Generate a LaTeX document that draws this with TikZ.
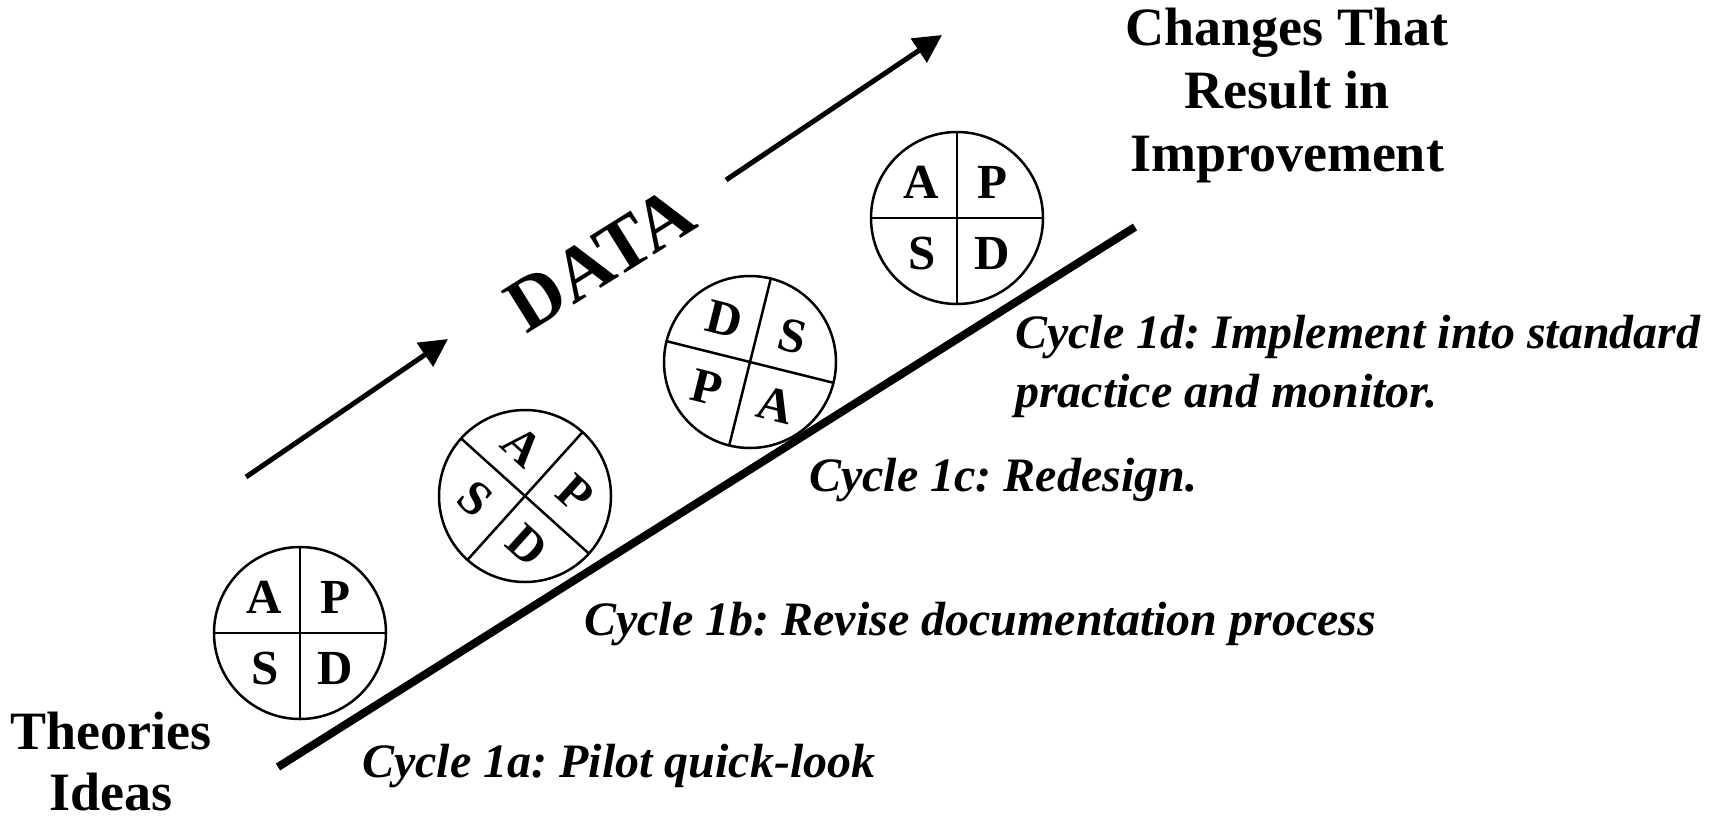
\documentclass[tikz,border=0pt]{standalone}
\usepackage{fontspec}
\setmainfont{Liberation Serif}
\usepackage{xcolor}
\definecolor{cInk}{HTML}{000000}
\usetikzlibrary{arrows.meta}
\tikzset{
  big-label/.style={font=\fontsize{54}{61}\selectfont\bfseries,align=center,
    inner sep=0pt,text=cInk},
  cycle-label/.style={font=\fontsize{48}{59}\selectfont\bfseries\itshape,
    align=left,inner sep=0pt,anchor=base west,text=cInk},
  data-label/.style={font=\fontsize{76}{80}\selectfont\bfseries,inner sep=0pt,
    text=cInk},
  pdsa-wheel/.style={draw=cInk,circle,line width=2.5pt,minimum size=172pt,
    inner sep=0pt},
  pdsa-cross/.style={draw=cInk,line width=2.5pt},
  pdsa-letter/.style={font=\fontsize{49}{50}\selectfont\bfseries,inner sep=0pt,
    text=cInk},
  ramp/.style={draw=cInk,line width=8pt},
  arrow-data/.style={-{Triangle[length=28pt,width=28pt]},line width=5pt,
    draw=cInk},
}
\frenchspacing

\begin{document}
\begin{tikzpicture}[x=1pt,y=-1pt]
  \useasboundingbox (0,0) rectangle (1719,820);

  % the ramp
  \coordinate (ramp-lo) at (278,767);
  \coordinate (ramp-hi) at (1135,227);
  \draw[ramp] (ramp-lo) -- (ramp-hi);

  % PDSA wheels: name / centre / turn / letters tl,tr,bl,br
  \foreach \name/\cx/\cy/\rot/\la/\lb/\lc/\ld in {
      c1a/300/633/0/A/P/S/D,
      c1b/525/496/-42/A/P/S/D,
      c1c/750/362/-14/D/S/P/A,
      c1d/957/218/0/A/P/S/D}{
    \node[pdsa-wheel] (\name) at (\cx,\cy) {};
    \draw[pdsa-cross] ([shift={({\rot}:86pt)}]\name.center)
      -- ([shift={({\rot+180}:86pt)}]\name.center);
    \draw[pdsa-cross] ([shift={({\rot+90}:86pt)}]\name.center)
      -- ([shift={({\rot+270}:86pt)}]\name.center);
    \node[pdsa-letter,rotate=\rot] (\name-\la)
      at ([shift={({\rot+135}:50pt)}]\name.center) {\la};
    \node[pdsa-letter,rotate=\rot] (\name-\lb)
      at ([shift={({\rot+45}:50pt)}]\name.center) {\lb};
    \node[pdsa-letter,rotate=\rot] (\name-\lc)
      at ([shift={({\rot+225}:50pt)}]\name.center) {\lc};
    \node[pdsa-letter,rotate=\rot] (\name-\ld)
      at ([shift={({\rot+315}:50pt)}]\name.center) {\ld};
  }

  % data arrows
  \coordinate (d1-tail) at (246,477);
  \coordinate (d1-tip) at (448,339);
  \coordinate (d2-tail) at (726,180);
  \coordinate (d2-tip) at (942,35);
  \draw[arrow-data] (d1-tail) -- (d1-tip);
  \draw[arrow-data] (d2-tail) -- (d2-tip);
  \node[data-label,rotate=32] (data) at (600,259) {DATA};

  \node[big-label] (theories) at (111,762) {Theories\\Ideas};
  \node[big-label,font=\fontsize{54}{63}\selectfont\bfseries] (changes)
    at (1287,96) {Changes That\\Result in\\Improvement};

  \node[cycle-label] (cyc-a) at (362,777) {Cycle 1a: Pilot quick-look};
  \node[cycle-label] (cyc-b) at (584,635) {Cycle 1b: Revise documentation process};
  \node[cycle-label] (cyc-c) at (809,491) {Cycle 1c: Redesign.};
  \node[cycle-label,anchor=north west] (cyc-d) at (1015,315)
    {Cycle 1d: Implement into standard\\practice and monitor.};
\end{tikzpicture}
\end{document}
